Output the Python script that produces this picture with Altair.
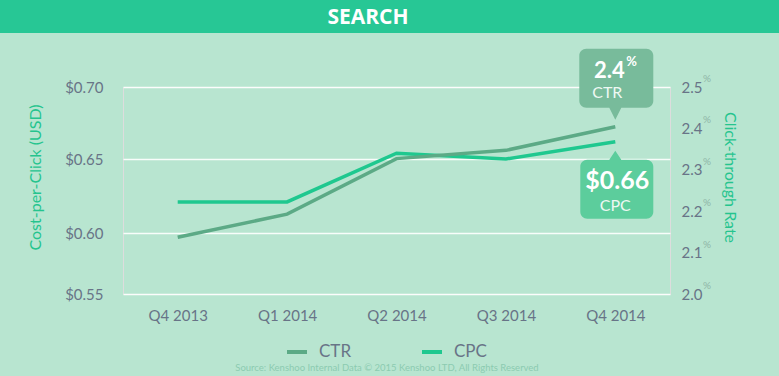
import altair as alt
import pandas as pd

# ---- data ----
quarters = ["Q4 2013", "Q1 2014", "Q2 2014", "Q3 2014", "Q4 2014"]
cpc = [0.621, 0.621, 0.654, 0.650, 0.662]          # Cost-per-Click (USD)
ctr = [2.137, 2.193, 2.327, 2.347, 2.404]          # Click-through Rate (%)
cpc_ticks = [0.55, 0.60, 0.65, 0.70]
ctr_ticks = [2.0, 2.1, 2.2, 2.3, 2.4, 2.5]
series_names = ["CTR", "CPC"]
title_text = ["SEARCH"]
source_text = ["Source: Kenshoo Internal Data \u00a9 2015 Kenshoo LTD, All Rights Reserved"]

# ---- styles ----
BG = "#b8e5d0"
BANNER = "#27c795"
CTR_COL = "#5caa86"
CPC_COL = "#1fc88f"
CTR_BOX = "#78bb9b"
CPC_BOX = "#5ccd9c"
LABEL = "#687487"
TITLE_G = "#25c48e"
FONT = "Lato"

W, H = 547, 207

df_cpc = pd.DataFrame({"quarter": quarters, "value": cpc, "series": "CPC"})
df_ctr = pd.DataFrame({"quarter": quarters, "value": ctr, "series": "CTR"})
last_cpc = pd.DataFrame({"quarter": [quarters[-1]], "value": [cpc[-1]],
                         "label": ["$" + f"{cpc[-1]:.2f}"], "name": ["CPC"]})
last_ctr = pd.DataFrame({"quarter": [quarters[-1]], "value": [ctr[-1]],
                         "label": [f"{ctr[-1]:.1f}"], "name": ["CTR"], "pct": ["%"]})
df_ctr_ticks = pd.DataFrame({"value": ctr_ticks, "pct": ["%"] * len(ctr_ticks)})

x_enc = alt.X("quarter:N", scale=alt.Scale(type="point", domain=quarters, padding=0.5),
              axis=alt.Axis(title=None, domain=False, ticks=False, grid=False, labelAngle=0,
                            labelColor=LABEL, labelFontSize=15, labelPadding=14,
                            labelFont=FONT))

cpc_scale = alt.Scale(domain=cpc_ticks, range=[H, 146, 72, 0], nice=False, zero=False)
y_cpc = alt.Y("value:Q", scale=cpc_scale,
              axis=alt.Axis(orient="left", values=cpc_ticks, format="$.2f",
                            title="Cost-per-Click (USD)", titleColor=TITLE_G,
                            titleFontSize=16, titleFontWeight="normal", titleFont=FONT,
                            titlePadding=21, titleY=90,
                            domain=False, ticks=False, grid=True,
                            gridColor="#ffffff", gridWidth=1.5, gridOpacity=0.9,
                            labelColor=LABEL, labelFontSize=15, labelPadding=20,
                            labelFont=FONT))

ctr_scale = alt.Scale(domain=[2.0, 2.5], nice=False, zero=False)
y_ctr = alt.Y("value:Q", scale=ctr_scale,
              axis=alt.Axis(orient="right", values=ctr_ticks, format=".1f",
                            title="Click-through Rate", titleColor=TITLE_G,
                            titleFontSize=16, titleFontWeight="normal", titleFont=FONT,
                            titlePadding=20, titleY=90,
                            domain=False, ticks=False, grid=False,
                            labelColor=LABEL, labelFontSize=15, labelPadding=11,
                            labelFont=FONT))

color_enc = alt.Color("series:N",
                      scale=alt.Scale(domain=series_names, range=[CTR_COL, CPC_COL]),
                      legend=alt.Legend(title=None, orient="none", legendX=162, legendY=253,
                                        direction="horizontal", symbolType="stroke",
                                        symbolSize=400, symbolStrokeWidth=4,
                                        labelFontSize=17, labelColor=LABEL, labelFont=FONT,
                                        labelOffset=10, columnPadding=62))

CTR_PATH = ("M -29 -78 H 31 A 7 7 0 0 1 38 -71 V -26 A 7 7 0 0 1 31 -19 H 6 L 0 -7 "
            "L -6 -19 H -29 A 7 7 0 0 1 -36 -26 V -71 A 7 7 0 0 1 -29 -78 Z")
CPC_PATH = ("M -28 18 H -6 L 0 9 L 6 18 H 31 A 7 7 0 0 1 38 25 V 70 A 7 7 0 0 1 31 77 "
            "H -28 A 7 7 0 0 1 -35 70 V 25 A 7 7 0 0 1 -28 18 Z")

# ---- CPC group (left axis) ----
cpc_line = alt.Chart(df_cpc).mark_line(strokeWidth=3.5).encode(x=x_enc, y=y_cpc, color=color_enc)
cpc_box = alt.Chart(last_cpc).mark_point(shape=CPC_PATH, size=4, filled=True, opacity=1,
                                         fill=CPC_BOX, strokeWidth=0).encode(x=x_enc, y=y_cpc)
cpc_val = alt.Chart(last_cpc).mark_text(dx=2, dy=39, fontSize=25, fontWeight="bold",
                                        color="#ffffff", font=FONT).encode(x=x_enc, y=y_cpc, text="label:N")
cpc_name = alt.Chart(last_cpc).mark_text(dx=0, dy=64, fontSize=16, color="#eef8f3",
                                         font=FONT).encode(x=x_enc, y=y_cpc, text="name:N")
cpc_group = alt.layer(cpc_line, cpc_box, cpc_val, cpc_name)

# ---- CTR group (right axis) ----
ctr_line = alt.Chart(df_ctr).mark_line(strokeWidth=3.5).encode(x=x_enc, y=y_ctr, color=color_enc)
ctr_box = alt.Chart(last_ctr).mark_point(shape=CTR_PATH, size=4, filled=True, opacity=1,
                                         fill=CTR_BOX, strokeWidth=0).encode(x=x_enc, y=y_ctr)
ctr_val = alt.Chart(last_ctr).mark_text(dx=-6, dy=-56, fontSize=22, fontWeight="bold",
                                        color="#ffffff", font=FONT).encode(x=x_enc, y=y_ctr, text="label:N")
ctr_pct = alt.Chart(last_ctr).mark_text(dx=11, dy=-65, fontSize=13, fontWeight="bold", align="left",
                                        color="#ffffff", font=FONT).encode(x=x_enc, y=y_ctr, text="pct:N")
ctr_name = alt.Chart(last_ctr).mark_text(dx=-8, dy=-34, fontSize=16, color="#eef8f3",
                                         font=FONT).encode(x=x_enc, y=y_ctr, text="name:N")
ctr_tick_pct = alt.Chart(df_ctr_ticks).mark_text(dy=-8, fontSize=10, align="left",
                                                 color="#8fb5a6", font=FONT).encode(
    x=alt.value(W + 33), y=y_ctr, text="pct:N")
ctr_group = alt.layer(ctr_line, ctr_box, ctr_val, ctr_pct, ctr_name, ctr_tick_pct)

# ---- decorations ----
banner = alt.Chart(pd.DataFrame({"t": title_text})).mark_rect(color=BANNER).encode(
    x=alt.value(-123), x2=alt.value(W + 109), y=alt.value(-87), y2=alt.value(-54))
banner_text = alt.Chart(pd.DataFrame({"t": title_text})).mark_text(
    fontSize=21, fontWeight="bold", color="#ffffff", font="Open Sans").encode(
    x=alt.value(245), y=alt.value(-69), text="t:N")
source = alt.Chart(pd.DataFrame({"t": source_text})).mark_text(
    fontSize=9.5, color="#8ccbb0", font=FONT).encode(
    x=alt.value(264), y=alt.value(281), text="t:N")

chart = alt.layer(cpc_group, ctr_group, banner, banner_text, source).resolve_scale(
    y="independent"
).properties(
    width=W, height=H,
    background=BG,
    autosize=alt.AutoSizeParams(type="none"),
    padding={"left": 123, "top": 87, "right": 109, "bottom": 82},
).configure_view(stroke=None).configure(font=FONT)

chart.save("out.html", embed_options={"renderer": "svg", "actions": False})
